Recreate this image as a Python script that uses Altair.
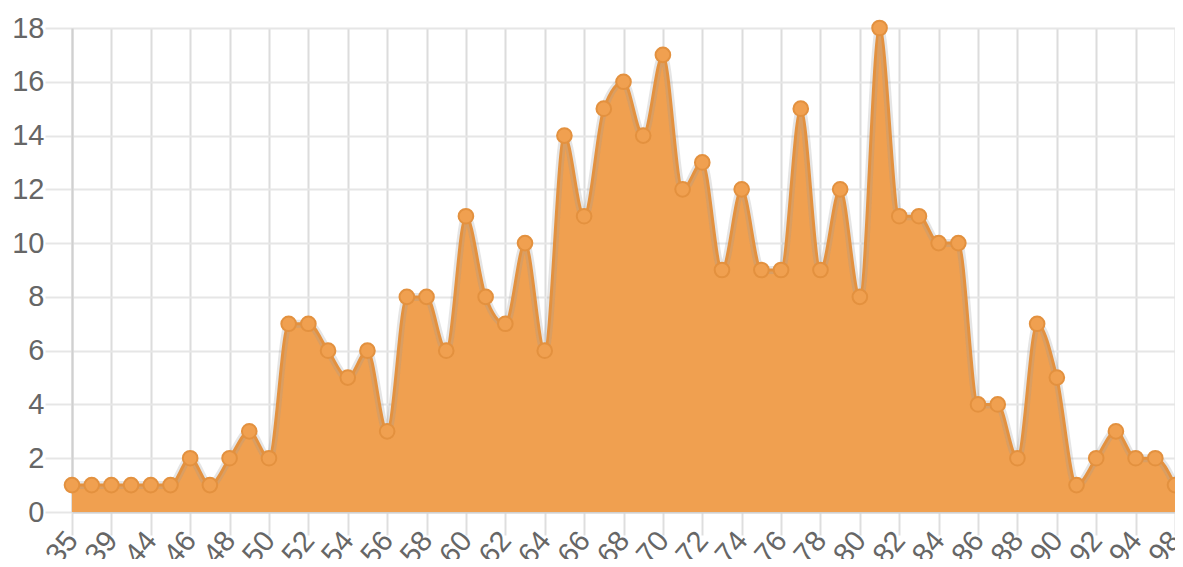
import altair as alt
import pandas as pd

categories = ["35", "37", "39", "41", "44", "45", "46", "47", "48", "49", "50",
              "51", "52", "53", "54", "55", "56", "57", "58", "59", "60",
              "61", "62", "63", "64", "65", "66", "67", "68", "69", "70",
              "71", "72", "73", "74", "75", "76", "77", "78", "79", "80",
              "81", "82", "83", "84", "85", "86", "87", "88", "89", "90",
              "91", "92", "93", "94", "96", "98"]
values = [1, 1, 1, 1, 1, 1, 2, 1, 2, 3, 2,
          7, 7, 6, 5, 6, 3, 8, 8, 6, 11,
          8, 7, 10, 6, 14, 11, 15, 16, 14, 17,
          12, 13, 9, 12, 9, 9, 15, 9, 12, 8,
          18, 11, 11, 10, 10, 4, 4, 2, 7, 5,
          1, 2, 3, 2, 2, 1]
shown_labels = categories[::2]
y_ticks = list(range(0, 19, 2))

df = pd.DataFrame({"cat": categories, "val": values})

FONT = "Liberation Sans"
FILL = "#F0A050"
LINE = "#E3913F"

x = alt.X("cat:N", sort=categories,
          scale=alt.Scale(type="point", padding=0),
          axis=alt.Axis(values=shown_labels, title=None, labelAngle=-50,
                        labelAlign="right", labelBaseline="middle",
                        labelFontSize=29, labelColor="#666666", labelFont=FONT,
                        tickSize=23, tickColor="#dedede", tickWidth=2,
                        labelPadding=0, grid=True,
                        gridColor="#dcdcdc", gridWidth=2,
                        domainColor="#d0d0d0", domainWidth=2,
                        labelOverlap=False, labelFlush=False))
y = alt.Y("val:Q", scale=alt.Scale(domain=[0, 18], nice=False),
          axis=alt.Axis(values=y_ticks, title=None, labelFontSize=29,
                        labelColor="#666666", labelFont=FONT, tickSize=27,
                        tickColor="#e6e6e6", tickWidth=2, labelPadding=1,
                        grid=True, gridColor="#e6e6e6", gridWidth=2,
                        domainColor="#d0d0d0", domainWidth=2))

base = alt.Chart(df)
area = base.mark_area(interpolate="monotone", color=FILL, opacity=1).encode(x=x, y=y)
halo = base.mark_line(interpolate="monotone", color="#999999", strokeWidth=8,
                      opacity=0.25).encode(x=x, y=y)
line = base.mark_line(interpolate="monotone", color=LINE, strokeWidth=3).encode(x=x, y=y)
pts = base.mark_point(filled=True, size=215, fill=FILL, stroke=LINE,
                      strokeWidth=2, opacity=1).encode(x=x, y=y)

chart = (area + halo + line + pts).properties(
    width=1103, height=484,
    autosize=alt.AutoSizeParams(type="none"),
    padding={"left": 64, "top": 20, "right": 0, "bottom": 47},
).configure_view(stroke=None)

chart.save("out.html", embed_options={"renderer": "svg", "actions": False})
